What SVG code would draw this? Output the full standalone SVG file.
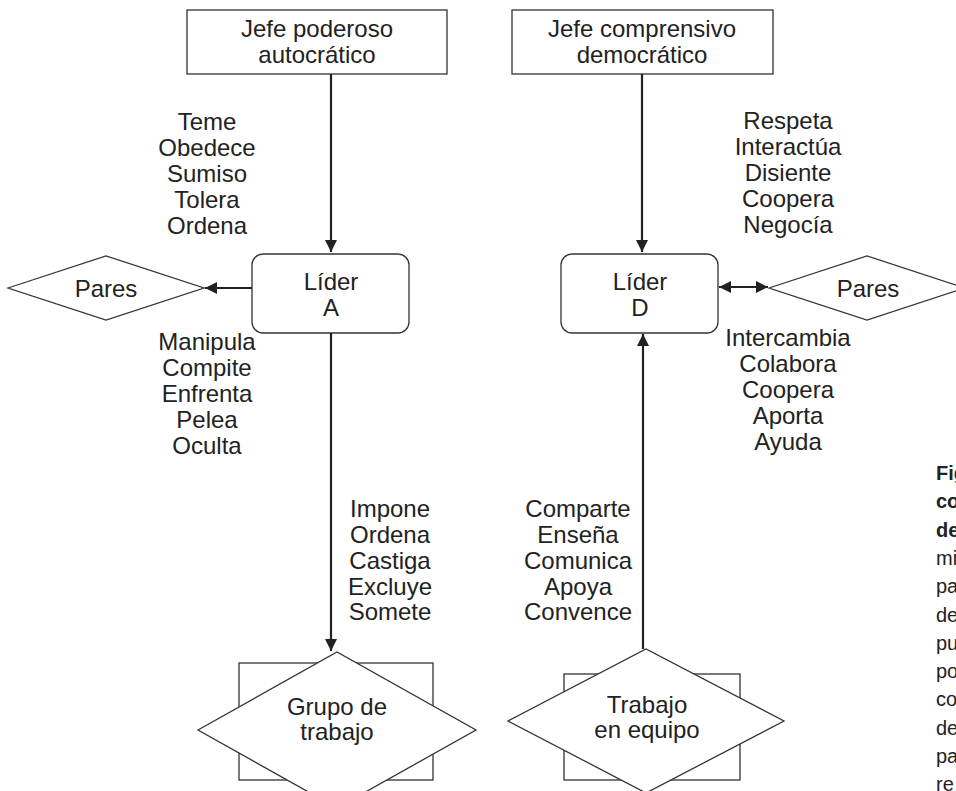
<svg xmlns="http://www.w3.org/2000/svg" width="956" height="791" viewBox="0 0 956 791">
<style>
.box{fill:#fff;stroke:#333;stroke-width:1.3}
.t{font-family:"Liberation Sans",Arial,sans-serif;font-size:24px;fill:#222;text-anchor:middle}
.c{font-family:"Liberation Sans",Arial,sans-serif;font-size:20px;fill:#222}
.b{font-weight:bold}
.con{stroke:#222;stroke-width:2.2;fill:none}
</style>
<defs>
<marker id="ah" markerUnits="userSpaceOnUse" markerWidth="14" markerHeight="14" refX="12" refY="6" orient="auto-start-reverse" viewBox="0 0 14 12">
<path d="M0,0 L12,6 L0,12 Z" fill="#222"/>
</marker>
</defs>

<g id="jefeA">
<rect class="box" x="187" y="10" width="260" height="64"/>
<text class="t" x="317" y="37">Jefe poderoso</text>
<text class="t" x="317" y="63">autocrático</text>
</g>
<g id="jefeD">
<rect class="box" x="512" y="10" width="261" height="64"/>
<text class="t" x="642" y="37">Jefe comprensivo</text>
<text class="t" x="642" y="63">democrático</text>
</g>
<g id="liderA">
<rect class="box" x="252" y="254" width="157" height="79" rx="11"/>
<text class="t" x="331" y="290">Líder</text>
<text class="t" x="331" y="316">A</text>
</g>
<g id="liderD">
<rect class="box" x="561" y="254" width="157" height="79" rx="11"/>
<text class="t" x="640" y="290">Líder</text>
<text class="t" x="640" y="316">D</text>
</g>
<g id="paresA">
<polygon class="box" points="8,288 106,256 204,288 106,320"/>
<text class="t" x="106" y="297">Pares</text>
</g>
<g id="paresD">
<polygon class="box" points="769,288 867,256 965,288 867,320"/>
<text class="t" x="868" y="297">Pares</text>
</g>
<g id="grupo">
<rect class="box" x="239" y="663" width="194" height="117"/>
<polygon class="box" points="198,730 337,652 476,730 337,808"/>
<text class="t" x="337" y="715">Grupo de</text>
<text class="t" x="337" y="740">trabajo</text>
</g>
<g id="equipo">
<rect class="box" x="564" y="674" width="176" height="106"/>
<polygon class="box" points="508,721 646,649 784,721 646,793"/>
<text class="t" x="647" y="713">Trabajo</text>
<text class="t" x="647" y="738">en equipo</text>
</g>

<g id="connectors">
<line class="con" x1="331" y1="74" x2="331" y2="252" marker-end="url(#ah)"/>
<line class="con" x1="642" y1="74" x2="642" y2="252" marker-end="url(#ah)"/>
<line class="con" x1="252" y1="288" x2="205" y2="288" marker-end="url(#ah)"/>
<line class="con" x1="719" y1="287" x2="768" y2="287" marker-start="url(#ah)" marker-end="url(#ah)"/>
<line class="con" x1="331" y1="333" x2="331" y2="651" marker-end="url(#ah)"/>
<line class="con" x1="643" y1="649" x2="643" y2="334" marker-end="url(#ah)"/>
</g>

<g id="labels">
<text class="t" x="207" y="130">Teme</text>
<text class="t" x="207" y="156">Obedece</text>
<text class="t" x="207" y="182">Sumiso</text>
<text class="t" x="207" y="208">Tolera</text>
<text class="t" x="207" y="234">Ordena</text>

<text class="t" x="788" y="129">Respeta</text>
<text class="t" x="788" y="155">Interactúa</text>
<text class="t" x="788" y="181">Disiente</text>
<text class="t" x="788" y="207">Coopera</text>
<text class="t" x="788" y="233">Negocía</text>

<text class="t" x="207" y="350">Manipula</text>
<text class="t" x="207" y="376">Compite</text>
<text class="t" x="207" y="402">Enfrenta</text>
<text class="t" x="207" y="428">Pelea</text>
<text class="t" x="207" y="454">Oculta</text>

<text class="t" x="788" y="346">Intercambia</text>
<text class="t" x="788" y="372">Colabora</text>
<text class="t" x="788" y="398">Coopera</text>
<text class="t" x="788" y="424">Aporta</text>
<text class="t" x="788" y="450">Ayuda</text>

<text class="t" x="390" y="517">Impone</text>
<text class="t" x="390" y="543">Ordena</text>
<text class="t" x="390" y="569">Castiga</text>
<text class="t" x="390" y="595">Excluye</text>
<text class="t" x="390" y="620">Somete</text>

<text class="t" x="578" y="517">Comparte</text>
<text class="t" x="578" y="543">Enseña</text>
<text class="t" x="578" y="569">Comunica</text>
<text class="t" x="578" y="595">Apoya</text>
<text class="t" x="578" y="620">Convence</text>
</g>

<g id="caption">
<text class="c b" x="936" y="480">Fig</text>
<text class="c b" x="936" y="508">co</text>
<text class="c b" x="936" y="537">de</text>
<text class="c" x="936" y="565">mi</text>
<text class="c" x="936" y="593">pa</text>
<text class="c" x="936" y="622">de</text>
<text class="c" x="936" y="650">pu</text>
<text class="c" x="936" y="678">po</text>
<text class="c" x="936" y="706">co</text>
<text class="c" x="936" y="735">de</text>
<text class="c" x="936" y="763">pa</text>
<text class="c" x="936" y="791">re</text>
</g>
</svg>
